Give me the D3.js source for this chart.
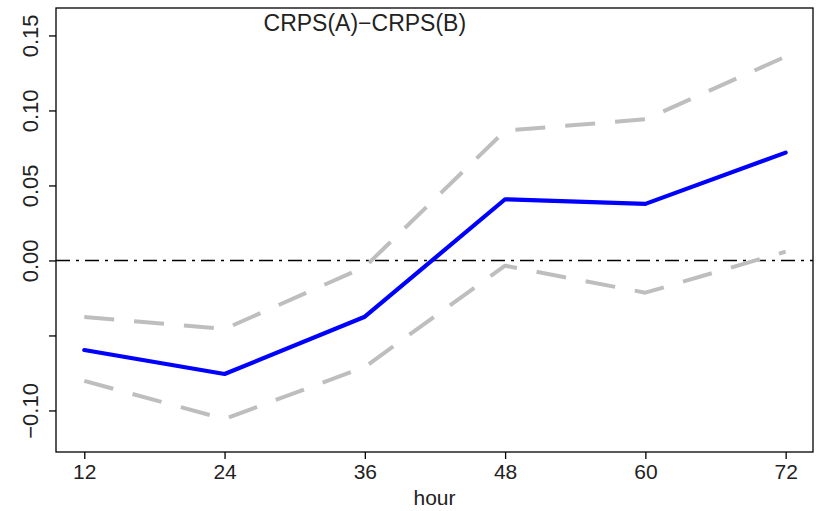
<!DOCTYPE html>
<html>
<head>
<meta charset="utf-8">
<script src="https://cdn.jsdelivr.net/npm/d3@7"></script>
<style>
  html, body { margin: 0; padding: 0; background: #fff; }
  svg text { font-family: "Liberation Sans", Arial, Helvetica, sans-serif; fill: #222; }
</style>
</head>
<body>
<svg id="chart" width="820" height="511"></svg>
<script>
// Forecast lead times (hours)
const hours = [12, 24, 36, 48, 60, 72];
// Mean CRPS difference and its confidence bounds
const meanDiff  = [-0.0597, -0.0757, -0.0375, 0.0408, 0.0377, 0.0719];
const upperBand = [-0.0377, -0.0457, -0.0043, 0.0865, 0.0941, 0.1359];
const lowerBand = [-0.0803, -0.1057, -0.0710, -0.0035, -0.0215, 0.0059];
// Axis ticks
const yTicks = [-0.10, -0.05, 0.00, 0.05, 0.10, 0.15];
const yTickLabels = ["\u22120.10", "", "0.00", "0.05", "0.10", "0.15"];
const xTicks = hours;

(function () {
  const svg = d3.select("#chart");
  const mLeft = 56, mRight = 813, mTop = 8, mBottom = 452;

  const x = d3.scaleLinear().domain([9.58, 74.34]).range([mLeft, mRight]);
  const y = d3.scaleLinear().domain([-0.1277, 0.1683]).range([mBottom, mTop]);

  // zero reference line
  svg.append("line")
    .attr("x1", mLeft).attr("x2", mRight)
    .attr("y1", y(0)).attr("y2", y(0))
    .attr("stroke", "#000").attr("stroke-width", 1.5)
    .attr("stroke-dasharray", "14,6,3,6");

  const line = d3.line().x((d, i) => x(hours[i])).y(d => y(d));

  [upperBand, lowerBand].forEach(band => {
    svg.append("path")
      .attr("d", line(band))
      .attr("fill", "none")
      .attr("stroke", "#bebebe")
      .attr("stroke-width", 4)
      .attr("stroke-dasharray", "30,20")
      .attr("stroke-linejoin", "round");
  });

  svg.append("path")
    .attr("d", line(meanDiff))
    .attr("fill", "none")
    .attr("stroke", "#0000ff")
    .attr("stroke-width", 4.2)
    .attr("stroke-linejoin", "round")
    .attr("stroke-linecap", "round");

  // plot frame
  svg.append("rect")
    .attr("x", mLeft).attr("y", mTop)
    .attr("width", mRight - mLeft).attr("height", mBottom - mTop)
    .attr("fill", "none").attr("stroke", "#000").attr("stroke-width", 1.3);

  // x axis
  const xAxis = svg.append("g")
    .attr("transform", `translate(0,${mBottom})`)
    .call(d3.axisBottom(x).tickValues(xTicks).tickSize(7).tickPadding(5).tickFormat(d3.format("d")));
  xAxis.select(".domain").remove();
  xAxis.selectAll("line").attr("stroke", "#000").attr("stroke-width", 1.3);
  xAxis.selectAll("text").style("font-size", "21px").attr("fill", "#222");

  // y axis with rotated labels
  const yAxis = svg.append("g")
    .attr("transform", `translate(${mLeft},0)`)
    .call(d3.axisLeft(y).tickValues(yTicks).tickSize(7).tickFormat((d, i) => yTickLabels[i]));
  yAxis.select(".domain").remove();
  yAxis.selectAll("line").attr("stroke", "#000").attr("stroke-width", 1.3);
  yAxis.selectAll("text")
    .style("font-size", "22px")
    .attr("fill", "#222")
    .attr("x", 0).attr("dy", 0)
    .attr("text-anchor", "middle")
    .attr("transform", "translate(-18,0) rotate(-90)");

  // axis title
  svg.append("text")
    .attr("x", (mLeft + mRight) / 2).attr("y", 505)
    .attr("text-anchor", "middle")
    .style("font-size", "21px")
    .text("hour");

  // panel title
  svg.append("text")
    .attr("x", x(36)).attr("y", 31)
    .attr("text-anchor", "middle")
    .style("font-size", "23px")
    .text("CRPS(A)\u2212CRPS(B)");
})();
</script>
</body>
</html>
